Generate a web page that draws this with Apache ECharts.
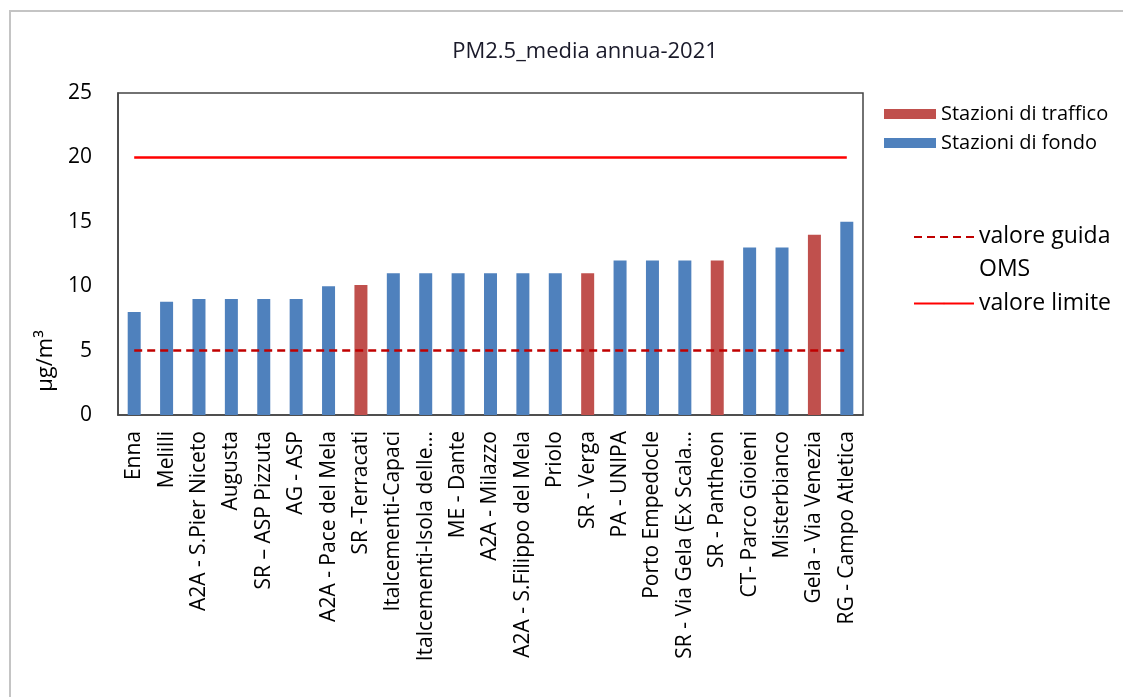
<!DOCTYPE html>
<html>
<head>
<meta charset="utf-8">
<script src="https://cdn.jsdelivr.net/npm/echarts@6/dist/echarts.min.js"></script>
<style>
  html, body { margin: 0; padding: 0; background: #fff; }
  #main { width: 1123px; height: 697px; }
</style>
</head>
<body>
<div id="main"></div>
<script>
// stazioni, valori medi annui PM2.5 (µg/m3) e tipo stazione
const stazioni = [
  "Enna", "Melilli", "A2A - S.Pier Niceto", "Augusta", "SR \u2013 ASP Pizzuta",
  "AG - ASP", "A2A - Pace del Mela", "SR -Terracati", "Italcementi-Capaci",
  "Italcementi-Isola delle...", "ME - Dante", "A2A - Milazzo",
  "A2A - S.Filippo del Mela", "Priolo", "SR - Verga", "PA - UNIPA",
  "Porto Empedocle", "SR - Via Gela (Ex Scala...", "SR - Pantheon",
  "CT- Parco Gioieni", "Misterbianco", "Gela - Via Venezia", "RG - Campo Atletica"
];
const valori = [8, 8.8, 9, 9, 9, 9, 10, 10.1, 11, 11, 11, 11, 11, 11, 11, 12, 12, 12, 12, 13, 13, 14, 15];
// T = traffico, F = fondo
const tipo = ["F", "F", "F", "F", "F", "F", "F", "T", "F", "F", "F", "F", "F", "F", "T", "F", "F", "F", "T", "F", "F", "T", "F"];
const valoreGuida = 5;
const valoreLimite = 20;
const yTicks = [0, 5, 10, 15, 20, 25];

const font = "'Open Sans', sans-serif";

let myChart = echarts.init(document.getElementById("main"));

let option = {
  backgroundColor: "#fff",
  animation: false,
  title: {
    text: "PM2.5_media annua-2021",
    left: 580,
    textAlign: "center",
    top: 36,
    textStyle: { fontFamily: font, fontSize: 22, fontWeight: "normal", color: "#1a1a2a" }
  },
  graphic: [
    {
      type: "rect",
      shape: { x: 10, y: 11, width: 1200, height: 800 },
      style: { fill: "none", stroke: "#c4c4c4", lineWidth: 2 },
      silent: true
    },
    {
      type: "text",
      x: 46,
      y: 361,
      rotation: Math.PI / 2,
      style: {
        text: "\u03bcg/m\u00b3",
        fontFamily: font,
        fontSize: 22,
        fill: "#000",
        align: "center",
        verticalAlign: "middle"
      }
    }
  ],
  legend: [
    {
      data: ["Stazioni di traffico", "Stazioni di fondo"],
      orient: "vertical",
      left: 879,
      top: 99,
      itemWidth: 52,
      itemHeight: 10,
      itemGap: 9,
      icon: "rect",
      textStyle: { fontFamily: font, fontSize: 20, color: "#000" }
    },
    {
      data: ["valore guida OMS"],
      left: 908,
      top: 220,
      itemWidth: 60,
      itemHeight: 2,
      formatter: function () { return "{a|valore guida}\n{b|OMS}"; },
      textStyle: {
        fontFamily: font,
        fontSize: 23,
        color: "#000",
        rich: {
          a: { fontFamily: font, fontSize: 23, color: "#000", lineHeight: 64, verticalAlign: "bottom" },
          b: { fontFamily: font, fontSize: 23, color: "#000", lineHeight: 42 }
        }
      }
    },
    {
      data: ["valore limite"],
      left: 908,
      top: 287,
      itemWidth: 60,
      itemHeight: 2,
      textStyle: { fontFamily: font, fontSize: 23, color: "#000" }
    }
  ],
  grid: {
    left: 118,
    right: 260,
    top: 93,
    bottom: 282,
    show: true,
    borderColor: "#444",
    borderWidth: 1.5
  },
  xAxis: {
    type: "category",
    data: stazioni,
    axisLine: { lineStyle: { color: "#444", width: 1.5 } },
    axisTick: { show: false },
    axisLabel: {
      interval: 0,
      rotate: 90,
      margin: 16,
      color: "#000",
      fontFamily: font,
      fontSize: 21
    }
  },
  yAxis: {
    type: "value",
    min: yTicks[0],
    max: yTicks[yTicks.length - 1],
    interval: 5,
    splitLine: { show: false },
    axisLine: { show: true, lineStyle: { color: "#444", width: 1.5 } },
    axisTick: { show: false },
    axisLabel: { color: "#000", fontFamily: font, fontSize: 21, margin: 26 }
  },
  series: [
    {
      name: "Stazioni di traffico",
      type: "bar",
      barWidth: 13,
      barGap: "-100%",
      itemStyle: { color: "#C0504D" },
      data: valori.map((v, i) => (tipo[i] === "T" ? v : null))
    },
    {
      name: "Stazioni di fondo",
      type: "bar",
      barWidth: 13,
      itemStyle: { color: "#4F81BD" },
      data: valori.map((v, i) => (tipo[i] === "F" ? v : null))
    },
    {
      name: "valore guida OMS",
      type: "line",
      symbol: "none",
      lineStyle: { color: "#C00000", width: 2.5, type: [8, 5] },
      itemStyle: { color: "#C00000" },
      data: stazioni.map(() => valoreGuida)
    },
    {
      name: "valore limite",
      type: "line",
      symbol: "none",
      lineStyle: { color: "#FF0000", width: 2.5 },
      itemStyle: { color: "#FF0000" },
      data: stazioni.map(() => valoreLimite)
    }
  ]
};

myChart.setOption(option);
</script>
</body>
</html>
